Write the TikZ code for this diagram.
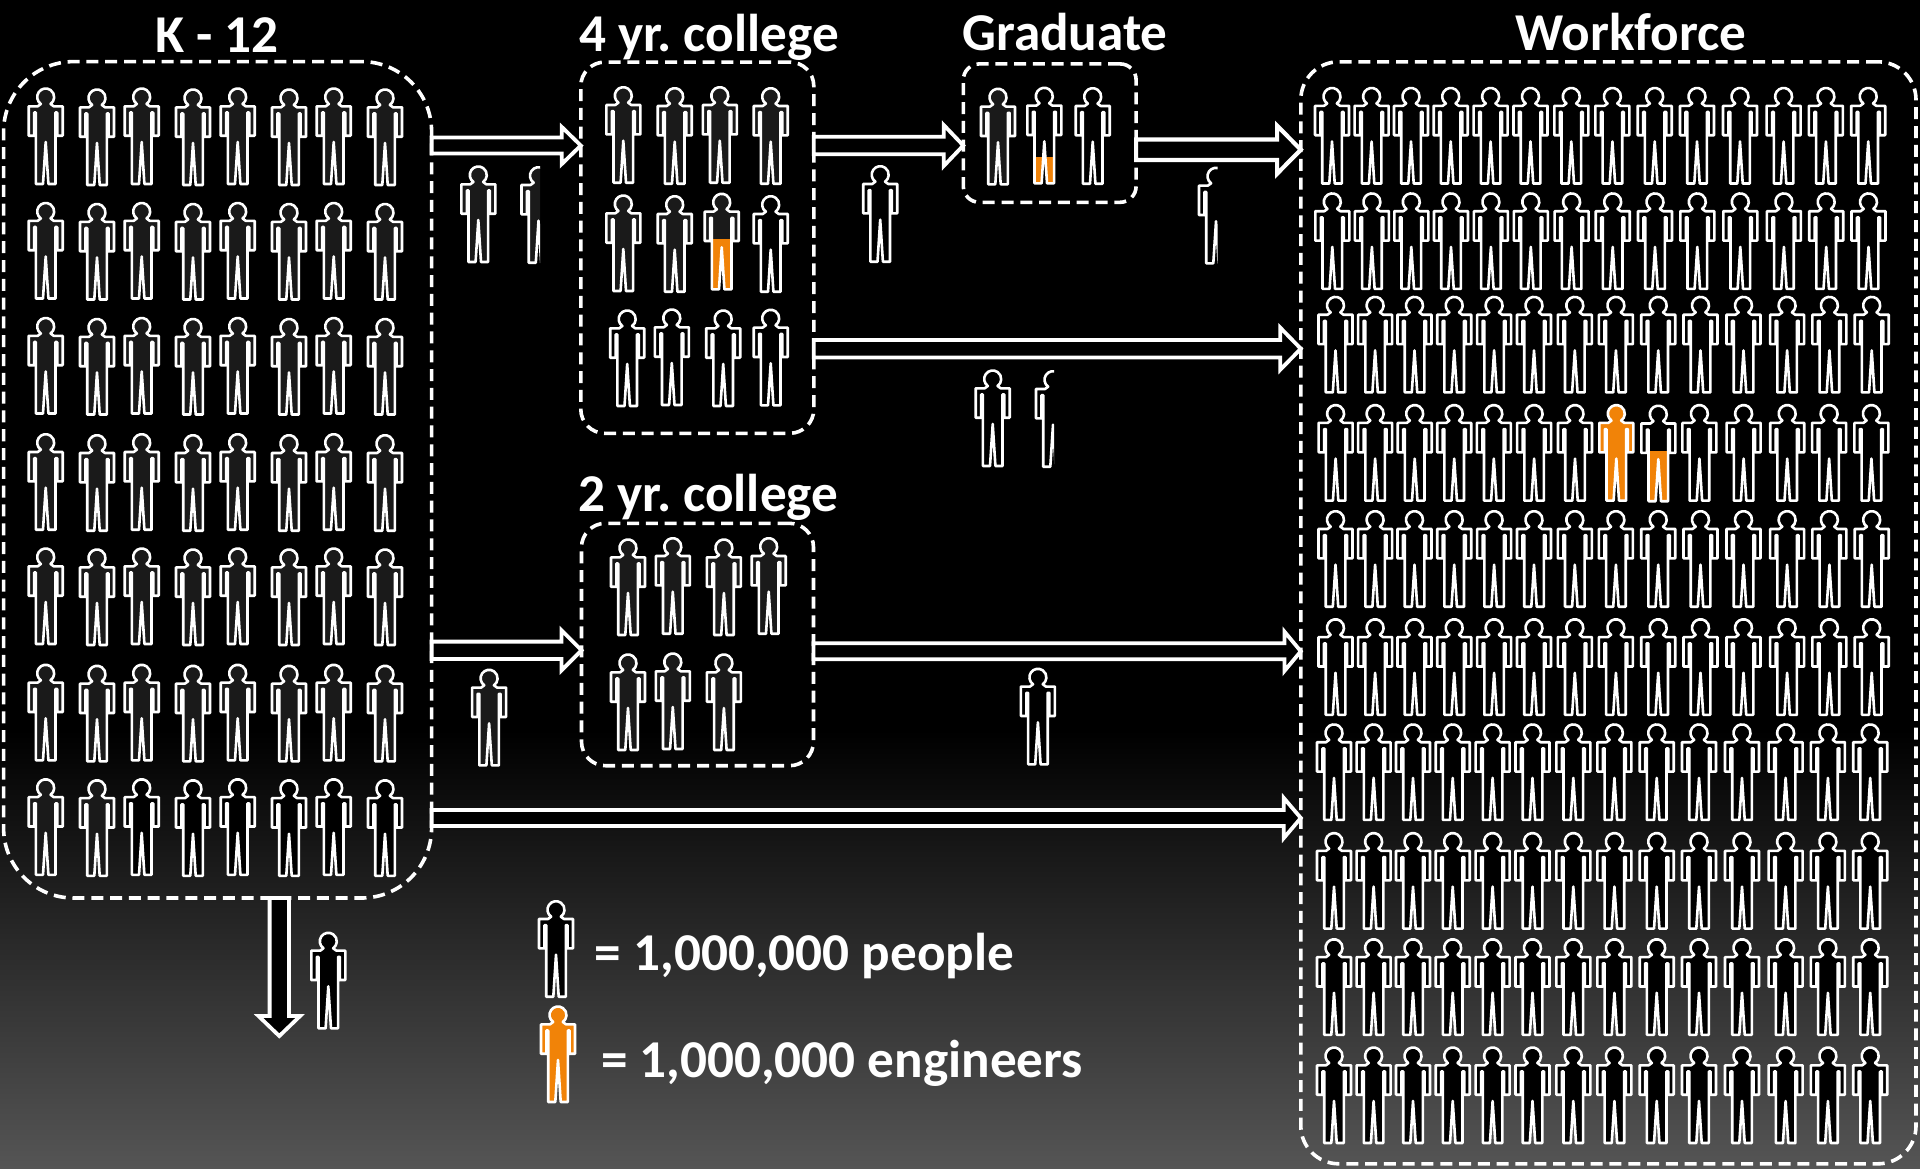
\documentclass[tikz,border=0pt]{standalone}
\usepackage{fontspec}
\setmainfont{Carlito}
\usetikzlibrary{calc}
\frenchspacing
\definecolor{engorange}{HTML}{F18308}
\definecolor{pgray}{HTML}{1A1A1A}
\definecolor{gradend}{HTML}{555555}
\newcommand\personshape{(-4.875,15.96) arc[start angle=125,delta angle=290,radius=8.5] -- (8,18.3) -- (17,18.3) -- (17,47.7) -- (11.5,47.7) -- (11.5,24.5) -- (9.8,24.5) -- (9.8,96) -- (2.7,96) -- (0,54) -- (-2.7,96) -- (-9.8,96) -- (-9.8,24.5) -- (-11.5,24.5) -- (-11.5,47.7) -- (-17,47.7) -- (-17,18.3) -- (-8,18.3) -- cycle}
\newcommand\pp[3]{\begin{scope}[shift={(#1,#2)}]\path[personline,fill=#3] \personshape;\end{scope}}
\newcommand\ppo[4]{\begin{scope}[shift={(#1,#2)}]\fill[#3] \personshape;\begin{scope}\clip (-9.8,#4) rectangle (9.8,100);\fill[engorange] \personshape;\end{scope}\draw[personline] \personshape;\end{scope}}
\newcommand\ppc[4]{\begin{scope}[shift={(#1,#2)}]\clip (-30,-3) rectangle (#4,100);\path[personline,fill=#3] \personshape;\end{scope}}
\tikzset{
  x=0.5pt,y=-0.5pt,
  personline/.style={draw=white,line width=1.3pt,line join=round},
  dashbox/.style={draw=white,line width=1.8pt,dash pattern=on 6pt off 3.4pt,inner sep=0pt,outer sep=0pt,rectangle},
  titletext/.style={text=white,font=\fontsize{26.6}{30}\selectfont\bfseries,inner sep=0pt,anchor=base},
  hblock/.style n args={4}{draw=white,fill=black,line width=#4,miter limit=10,
    to path={($(\tikztostart)+(0,-#1)$) -- ($(\tikztotarget)+(-#3,-#1)$) -- ($(\tikztotarget)+(-#3,-#2)$) -- (\tikztotarget) -- ($(\tikztotarget)+(-#3,#2)$) -- ($(\tikztotarget)+(-#3,#1)$) -- ($(\tikztostart)+(0,#1)$) -- cycle}},
  vblock/.style n args={4}{draw=white,fill=black,line width=#4,miter limit=10,
    to path={($(\tikztostart)+(-#1,0)$) -- ($(\tikztotarget)+(-#1,-#3)$) -- ($(\tikztotarget)+(-#2,-#3)$) -- (\tikztotarget) -- ($(\tikztotarget)+(#2,-#3)$) -- ($(\tikztotarget)+(#1,-#3)$) -- ($(\tikztostart)+(#1,0)$) -- cycle}},
}
\begin{document}
\begin{tikzpicture}
\useasboundingbox (0,0) rectangle (1920,1168);
\fill[black] (0,0) rectangle (1920,1168);
\shade[top color=black,bottom color=gradend] (0,730) rectangle (1920,1168);

% boxes
\node[dashbox,rounded corners=35pt,minimum width=214pt,minimum height=418.2pt] (k12) at (217.6,479.8) {};
\node[dashbox,rounded corners=12pt,minimum width=116.5pt,minimum height=185.6pt] (four) at (697.3,247.7) {};
\node[dashbox,rounded corners=12pt,minimum width=116pt,minimum height=121.2pt] (two) at (697.5,644.5) {};
\node[dashbox,rounded corners=8pt,minimum width=86.4pt,minimum height=69.2pt] (grad) at (1049.7,133.1) {};
\node[dashbox,rounded corners=19pt,minimum width=307.6pt,minimum height=551pt] (work) at (1608.4,612.8) {};

% titles
\node[titletext] (t1) at (216.7,52) {K - 12};
\node[titletext] (t2) at (709,51) {4 yr. college};
\node[titletext] (t3) at (1065,50.5) {Graduate};
\node[titletext] (t4) at (1631,50.5) {Workforce};
\node[titletext] (t5) at (708.4,511) {2 yr. college};
\node[titletext] (t6) at (804.5,970) {= 1,000,000 people};
\node[titletext] (t7) at (842,1077.5) {= 1,000,000 engineers};

% K-12 people
\foreach \yy/\rr in {88/1,202.5/2,317.5/3,433.7/4,548/5,664.3/6,778.8/7}{
  \foreach \xx/\dd/\cc in {45.7/0/1,97/1/2,141.7/0/3,193/1/4,237.7/0/5,289/1/6,333.7/0/7,385/1/8}{
    \pgfmathsetmacro\ty{\yy+\dd}
    \ifnum\rr=7 \ifnum\cc>2 \pp{\xx}{\ty}{black}\else\pp{\xx}{\ty}{pgray}\fi\else\pp{\xx}{\ty}{pgray}\fi
  }
}
% 4 yr people
\pp{623.3}{86.7}{pgray}\pp{674.7}{87.7}{pgray}\pp{719.8}{86.7}{pgray}\pp{770.7}{87.7}{pgray}
\pp{623.3}{195}{pgray}\pp{674.7}{195.7}{pgray}\ppo{721.7}{193.3}{pgray}{46}\pp{770.7}{195.7}{black}
\pp{627.2}{310}{black}\pp{671.8}{309}{black}\pp{723.2}{310}{black}\pp{770.7}{309.3}{black}
% 2 yr people
\pp{628}{539}{pgray}\pp{672.8}{537.7}{pgray}\pp{723.9}{539}{pgray}\pp{768.7}{537.7}{pgray}
\pp{628}{654}{pgray}\pp{672.8}{653}{pgray}\pp{723.9}{654}{pgray}
% Graduate people
\pp{998}{88.3}{pgray}\ppo{1044.3}{87.3}{black}{70}\pp{1092.7}{87.7}{black}
% Flow people
\pp{478.3}{166}{pgray}\ppc{538.5}{166.7}{pgray}{1.5}
\pp{880.2}{165.7}{black}\ppc{1216}{167.3}{black}{1.7}
\pp{992.7}{370}{black}\ppc{1053}{370.7}{black}{1}
\pp{489.1}{669.3}{pgray}\pp{1037.9}{668.3}{black}
\pp{328.3}{932.3}{black}
% Legend people
\pp{556}{900.7}{black}
\ppo{558}{1006}{engorange}{0}

% Workforce people
\foreach \yy/\dx in {87.5/0,192.9/0.3,296.4/3.5,510.7/3.5,618.8/3.5,723.9/2,832.6/2,938.8/2,1047/2}{
  \foreach \xx in {1332,1371.6,1411,1450.7,1490.6,1530.5,1571.3,1612.4,1654.7,1697,1740,1783.6,1825.9,1868.2}{
    \pgfmathsetmacro\tx{\xx+\dx}
    \pp{\tx}{\yy}{black}
  }
}
\foreach \xx in {1335.6,1375.1,1414.7,1454.2,1493.8,1534.1,1575,1699.4,1743.6,1787.2,1829.1,1871.4}{
  \pp{\xx}{404.6}{black}
}
\ppo{1616.3}{404.6}{engorange}{0}
\ppo{1658.3}{405.2}{black}{46}

% arrows
\coordinate (ya) at (0,145.5);
\coordinate (yc) at (0,149.7);
\coordinate (yd) at (0,348.7);
\coordinate (ye) at (0,650.3);
\coordinate (yf) at (0,651.3);
\coordinate (yg) at (0,818);
\coordinate (dropout) at (279.3,1036);
\draw[hblock={8}{18.5}{19}{1.9pt}] (k12.east |- ya) to (four.west |- ya);
\draw[hblock={8.8}{20.5}{19.6}{1.9pt}] (four.east |- ya) to (grad.west |- ya);
\draw[hblock={10.3}{24}{23.7}{2.1pt}] (grad.east |- yc) to (work.west |- yc);
\draw[hblock={8.7}{21}{20.5}{1.9pt}] (four.east |- yd) to (work.west |- yd);
\draw[hblock={8.7}{20}{20}{1.9pt}] (k12.east |- ye) to (two.west |- ye);
\draw[hblock={8}{19.7}{16.4}{1.9pt}] (two.east |- yf) to (work.west |- yf);
\draw[hblock={8}{20}{17}{1.9pt}] (k12.east |- yg) to (work.west |- yg);
\draw[vblock={9.7}{20.8}{20}{1.9pt}] (k12.south -| dropout) to (dropout);
\end{tikzpicture}
\end{document}
